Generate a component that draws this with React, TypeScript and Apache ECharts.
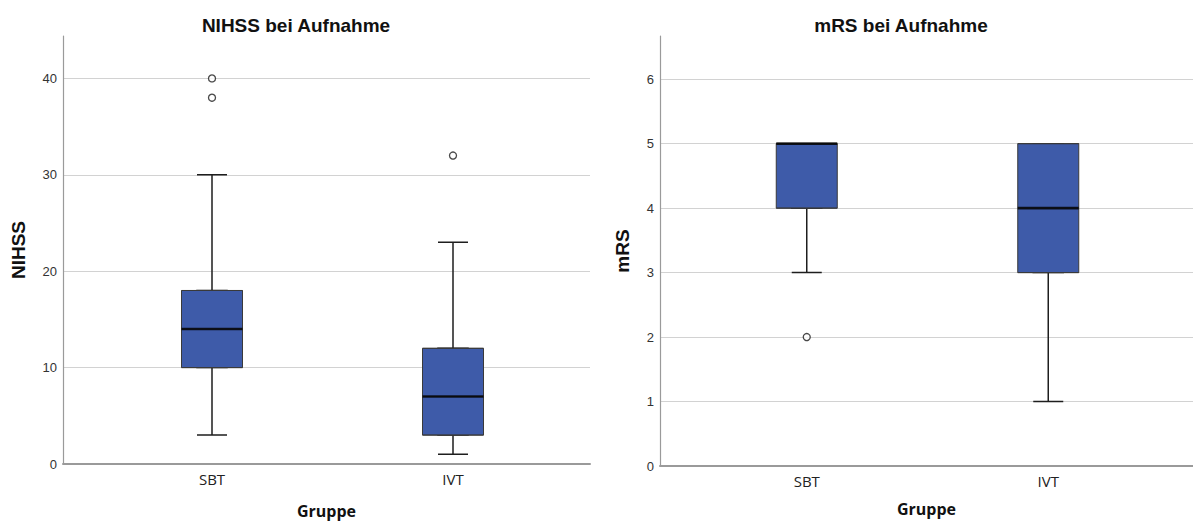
import React, { useEffect, useRef } from "react";
import * as echarts from "echarts";

// ---------- data ----------
const categories = ["SBT", "IVT"];

const nihssMin = [3, 1];
const nihssQ1 = [10, 3];
const nihssMedian = [14, 7];
const nihssQ3 = [18, 12];
const nihssMax = [30, 23];
const nihssOutliers: [string, number][] = [
  ["SBT", 38],
  ["SBT", 40],
  ["IVT", 32],
];

const mrsMin = [3, 1];
const mrsQ1 = [4, 3];
const mrsMedian = [5, 4];
const mrsQ3 = [5, 5];
const mrsMax = [5, 5];
const mrsOutliers: [string, number][] = [["SBT", 2]];

const nihssAxis = { min: 0, max: 44.4, interval: 10 };
const mrsAxis = { min: 0, max: 6.67, interval: 1 };

// ---------- styles ----------
const BOX_FILL = "#3E5BA9";
const BOX_BORDER = "#3a3a3a";
const WHISKER = "#1e1e1e";
const GRID_LINE = "#d2d2d2";
const AXIS_LINE = "#9a9a9a";
const TICK_FONT = "'Liberation Sans', Arial, Helvetica, sans-serif";
const CAT_FONT = "'Open Sans', 'Noto Sans', sans-serif";

type Panel = {
  title: string;
  titleX: number;
  yName: string;
  yNameGap: number;
  xNameGap: number;
  outer: { left: number; top: number; width: number; height: number };
  inner: { left: number; width: number };
  axis: { min: number; max: number; interval: number };
  min: number[];
  q1: number[];
  median: number[];
  q3: number[];
  max: number[];
  outliers: [string, number][];
};

const panels: Panel[] = [
  {
    title: "NIHSS bei Aufnahme",
    titleX: 296,
    yName: "NIHSS",
    yNameGap: 35,
    xNameGap: 39,
    outer: { left: 63, top: 36, width: 527, height: 428 },
    inner: { left: 91.5, width: 482 },
    axis: nihssAxis,
    min: nihssMin,
    q1: nihssQ1,
    median: nihssMedian,
    q3: nihssQ3,
    max: nihssMax,
    outliers: nihssOutliers,
  },
  {
    title: "mRS bei Aufnahme",
    titleX: 901,
    yName: "mRS",
    yNameGap: 28,
    xNameGap: 35,
    outer: { left: 660, top: 36, width: 533, height: 430 },
    inner: { left: 686, width: 483 },
    axis: mrsAxis,
    min: mrsMin,
    q1: mrsQ1,
    median: mrsMedian,
    q3: mrsQ3,
    max: mrsMax,
    outliers: mrsOutliers,
  },
];

function buildOption() {
  const grid: any[] = [];
  const xAxis: any[] = [];
  const yAxis: any[] = [];
  const series: any[] = [];
  const graphic: any[] = [];

  panels.forEach((p) => {
    const gA = grid.length;
    const common = { containLabel: false, outerBoundsMode: "none" };
    // outer grid: axis lines, grid lines, tick labels, names
    grid.push({ ...p.outer, ...common });
    // inner grid for whiskers + markers
    grid.push({ left: p.inner.left, width: p.inner.width, top: p.outer.top, height: p.outer.height, ...common });
    // second inner grid for the wide boxes (avoid side-by-side grouping)
    grid.push({ left: p.inner.left, width: p.inner.width, top: p.outer.top, height: p.outer.height, ...common });

    const xA = xAxis.length;
    xAxis.push({
      gridIndex: gA,
      type: "value",
      min: 0,
      max: 1,
      axisLine: { show: true, lineStyle: { color: AXIS_LINE, width: 2 } },
      axisTick: { show: false },
      axisLabel: { show: false },
      splitLine: { show: false },
      name: "Gruppe",
      nameLocation: "middle",
      nameGap: p.xNameGap,
      nameTextStyle: {
        fontFamily: CAT_FONT,
        fontSize: 16,
        lineHeight: 16,
        fontWeight: "bold",
        color: "#111",
      },
    });
    xAxis.push({
      gridIndex: gA + 1,
      type: "category",
      data: categories,
      boundaryGap: true,
      axisLine: { show: false },
      axisTick: { show: false },
      splitLine: { show: false },
      axisLabel: { margin: 7, fontFamily: CAT_FONT, fontSize: 15, color: "#222" },
    });
    xAxis.push({
      gridIndex: gA + 2,
      type: "category",
      data: categories,
      show: false,
    });

    const yA = yAxis.length;
    yAxis.push({
      gridIndex: gA,
      type: "value",
      min: p.axis.min,
      max: p.axis.max,
      interval: p.axis.interval,
      axisLine: { show: true, lineStyle: { color: AXIS_LINE, width: 1.2 } },
      axisTick: { show: false },
      axisLabel: {
        margin: 6,
        fontFamily: TICK_FONT,
        fontSize: 13,
        color: "#333",
        showMaxLabel: false,
      },
      splitLine: { show: true, showMaxLine: false, lineStyle: { color: GRID_LINE, width: 1 } },
      name: p.yName,
      nameLocation: "middle",
      nameRotate: 90,
      nameGap: p.yNameGap,
      nameTextStyle: { fontFamily: TICK_FONT, fontSize: 19, fontWeight: "bold", color: "#111" },
    });
    yAxis.push({ gridIndex: gA + 1, type: "value", min: p.axis.min, max: p.axis.max, show: false });
    yAxis.push({ gridIndex: gA + 2, type: "value", min: p.axis.min, max: p.axis.max, show: false });

    // whiskers (narrow caps)
    series.push({
      type: "boxplot",
      xAxisIndex: xA + 1,
      yAxisIndex: yA + 1,
      boxWidth: [30, 30],
      z: 2,
      itemStyle: { color: "rgba(0,0,0,0)", borderColor: WHISKER, borderWidth: 1.5 },
      data: categories.map((_, i) => [p.min[i], p.q1[i], p.median[i], p.q3[i], p.max[i]]),
    });
    // boxes (Q1..Q3)
    series.push({
      type: "boxplot",
      xAxisIndex: xA + 2,
      yAxisIndex: yA + 2,
      boxWidth: [61, 61],
      z: 3,
      itemStyle: { color: BOX_FILL, borderColor: BOX_BORDER, borderWidth: 1 },
      data: categories.map((_, i) => [p.q1[i], p.q1[i], p.median[i], p.q3[i], p.q3[i]]),
    });
    // median lines
    series.push({
      type: "scatter",
      xAxisIndex: xA + 1,
      yAxisIndex: yA + 1,
      symbol: "rect",
      symbolSize: [61, 2.6],
      z: 4,
      itemStyle: { color: "#000" },
      data: categories.map((c, i) => [c, p.median[i]]),
    });
    // outliers
    series.push({
      type: "scatter",
      xAxisIndex: xA + 1,
      yAxisIndex: yA + 1,
      symbol: "circle",
      symbolSize: 7,
      z: 5,
      itemStyle: { color: "#fff", borderColor: "#1a1a1a", borderWidth: 1.3 },
      data: p.outliers,
    });

    graphic.push({
      type: "text",
      x: p.titleX,
      y: 25,
      style: {
        text: p.title,
        textAlign: "center",
        textVerticalAlign: "middle",
        fontFamily: TICK_FONT,
        fontSize: 19,
        fontWeight: "bold",
        fill: "#111",
      },
    });
  });

  return {
    animation: false,
    backgroundColor: "#fff",
    grid,
    xAxis,
    yAxis,
    series,
    graphic,
  };
}

export default function App() {
  const ref = useRef<HTMLDivElement>(null);
  useEffect(() => {
    if (!ref.current) return;
    const chart = echarts.init(ref.current, undefined, { renderer: "svg" });
    chart.setOption(buildOption() as any);
    return () => chart.dispose();
  }, []);
  return (
    <div
      ref={ref}
      style={{ position: "fixed", left: 0, top: 0, width: 1193, height: 522, background: "#fff" }}
    />
  );
}
